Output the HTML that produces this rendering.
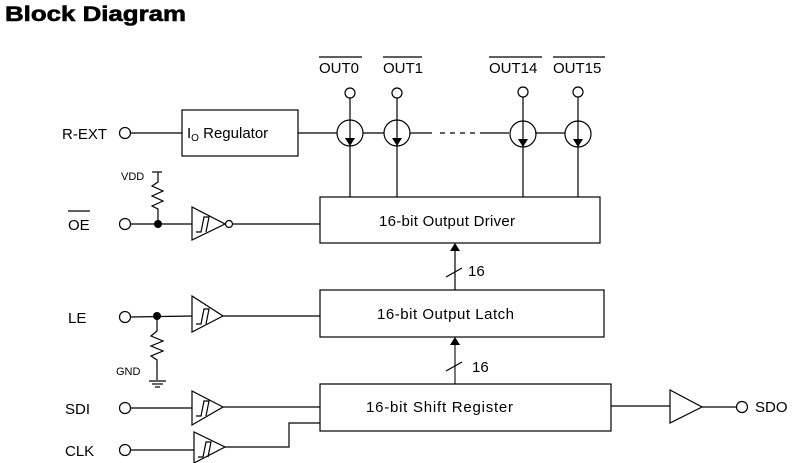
<!DOCTYPE html>
<html><head><style>
body{margin:0;background:#fff;width:801px;height:463px;overflow:hidden}
svg{display:block}
text{font-family:"Liberation Sans",sans-serif;fill:#000}
</style></head><body>
<svg width="801" height="463" viewBox="0 0 801 463" xmlns="http://www.w3.org/2000/svg">
<text x="5" y="21" font-size="21" font-weight="bold" textLength="181" lengthAdjust="spacingAndGlyphs" stroke="#000" stroke-width="0.6">Block Diagram</text>
<g stroke="#000" stroke-width="1.2" fill="none">
<circle cx="125" cy="133" r="5.5"/>
<line x1="131" y1="133" x2="182" y2="133"/>
<rect x="182" y="110" width="116" height="46"/>
<line x1="298" y1="133" x2="337" y2="133"/>
<line x1="363" y1="133" x2="384" y2="133"/>
<line x1="410" y1="133" x2="432" y2="133"/>
<line x1="440" y1="133" x2="478" y2="133" stroke-dasharray="5,5"/>
<line x1="480" y1="133" x2="509" y2="133"/>
<line x1="535" y1="133" x2="565" y2="133"/>
<circle cx="350" cy="133" r="13"/>
<circle cx="397" cy="133" r="13"/>
<circle cx="523" cy="134" r="13"/>
<circle cx="578" cy="134" r="13"/>
<circle cx="350" cy="93" r="5"/>
<circle cx="397" cy="93" r="5"/>
<circle cx="523" cy="92" r="5"/>
<circle cx="578" cy="92" r="5"/>
<line x1="350" y1="98" x2="350" y2="197"/>
<line x1="397" y1="98" x2="397" y2="197"/>
<line x1="523" y1="97" x2="523" y2="197"/>
<line x1="578" y1="97" x2="578" y2="197"/>
<line x1="319" y1="57" x2="362" y2="57"/>
<line x1="383" y1="57" x2="422" y2="57"/>
<line x1="489" y1="57" x2="542" y2="57"/>
<line x1="553" y1="57" x2="605" y2="57"/>
<line x1="68" y1="211" x2="90" y2="211"/>
<rect x="320" y="197" width="280" height="46"/>
<circle cx="125" cy="224" r="5.5"/>
<line x1="131" y1="224" x2="192" y2="224"/>
<polyline points="152,172 162,172"/>
<polyline points="158,172 158,182 152,186 163,191 152,196 163,201 152,206 158,209 158,224"/>
<polygon points="192,207 192,240 225,224"/>
<polyline points="196,232 201,232 204,217 209,217 206,232"/>
<circle cx="229" cy="224" r="3.5"/>
<line x1="233" y1="224" x2="320" y2="224"/>
<line x1="455" y1="290" x2="455" y2="250"/>
<line x1="446" y1="277" x2="462" y2="268"/>
<rect x="320" y="290" width="284" height="47"/>
<circle cx="125" cy="317" r="5.5"/>
<line x1="131" y1="317" x2="192" y2="316"/>
<polygon points="192,296 192,332 223,316"/>
<polyline points="196,324 201,324 204,309 209,309 206,324"/>
<line x1="223" y1="316" x2="320" y2="316"/>
<polyline points="157,316 157,331 151,336 163,341 151,346 163,351 151,356 157,360 157,380"/>
<line x1="149" y1="381" x2="166" y2="381"/>
<line x1="152" y1="384" x2="163" y2="384"/>
<line x1="155" y1="387" x2="160" y2="387"/>
<line x1="455" y1="384" x2="455" y2="344" stroke="#555" stroke-width="1.6"/>
<line x1="446" y1="371" x2="462" y2="362"/>
<rect x="320" y="384" width="291" height="47"/>
<circle cx="125" cy="408" r="5.5"/>
<line x1="131" y1="408" x2="192" y2="408"/>
<polygon points="192,391 192,425 223,407"/>
<polyline points="196,416 201,416 204,401 209,401 206,416"/>
<line x1="223" y1="407" x2="320" y2="407"/>
<circle cx="125" cy="450" r="5.5"/>
<line x1="131" y1="450" x2="194" y2="450"/>
<polygon points="194,432 194,463 225,447"/>
<polyline points="198,457 203,457 206,442 211,442 208,457"/>
<polyline points="225,447 289,447 289,423 320,423"/>
<line x1="611" y1="406" x2="670" y2="406"/>
<polygon points="670,390 670,423 702,407"/>
<line x1="702" y1="407" x2="737" y2="407"/>
<circle cx="742" cy="407" r="5.5"/>
</g>
<g fill="#000">
<polygon points="345,138 355,138 350,146"/>
<polygon points="392,138 402,138 397,146"/>
<polygon points="518,139 528,139 523,147"/>
<polygon points="573,139 583,139 578,147"/>
<polygon points="450,251 460,251 455,243"/>
<polygon points="450,345 460,345 455,337"/>
<circle cx="158" cy="224" r="4"/>
<circle cx="157" cy="316" r="4"/>
</g>
<g font-size="15">
<text x="62" y="139">R-EXT</text>
<text x="187" y="138">I<tspan font-size="10" dy="3">O</tspan><tspan dy="-3"> Regulator</tspan></text>
<text x="319" y="73">OUT0</text>
<text x="383" y="73">OUT1</text>
<text x="489" y="73">OUT14</text>
<text x="553" y="73">OUT15</text>
<text x="68" y="230">OE</text>
<text x="379" y="226" textLength="136">16-bit Output Driver</text>
<text x="468" y="276">16</text>
<text x="68" y="323">LE</text>
<text x="377" y="319" textLength="137">16-bit Output Latch</text>
<text x="472" y="372">16</text>
<text x="65" y="414">SDI</text>
<text x="366" y="412" textLength="147">16-bit Shift Register</text>
<text x="65" y="456">CLK</text>
<text x="755" y="412">SDO</text>
</g>
<text x="121" y="180" font-size="11">VDD</text>
<text x="116" y="375" font-size="11">GND</text>
</svg>
</body></html>
